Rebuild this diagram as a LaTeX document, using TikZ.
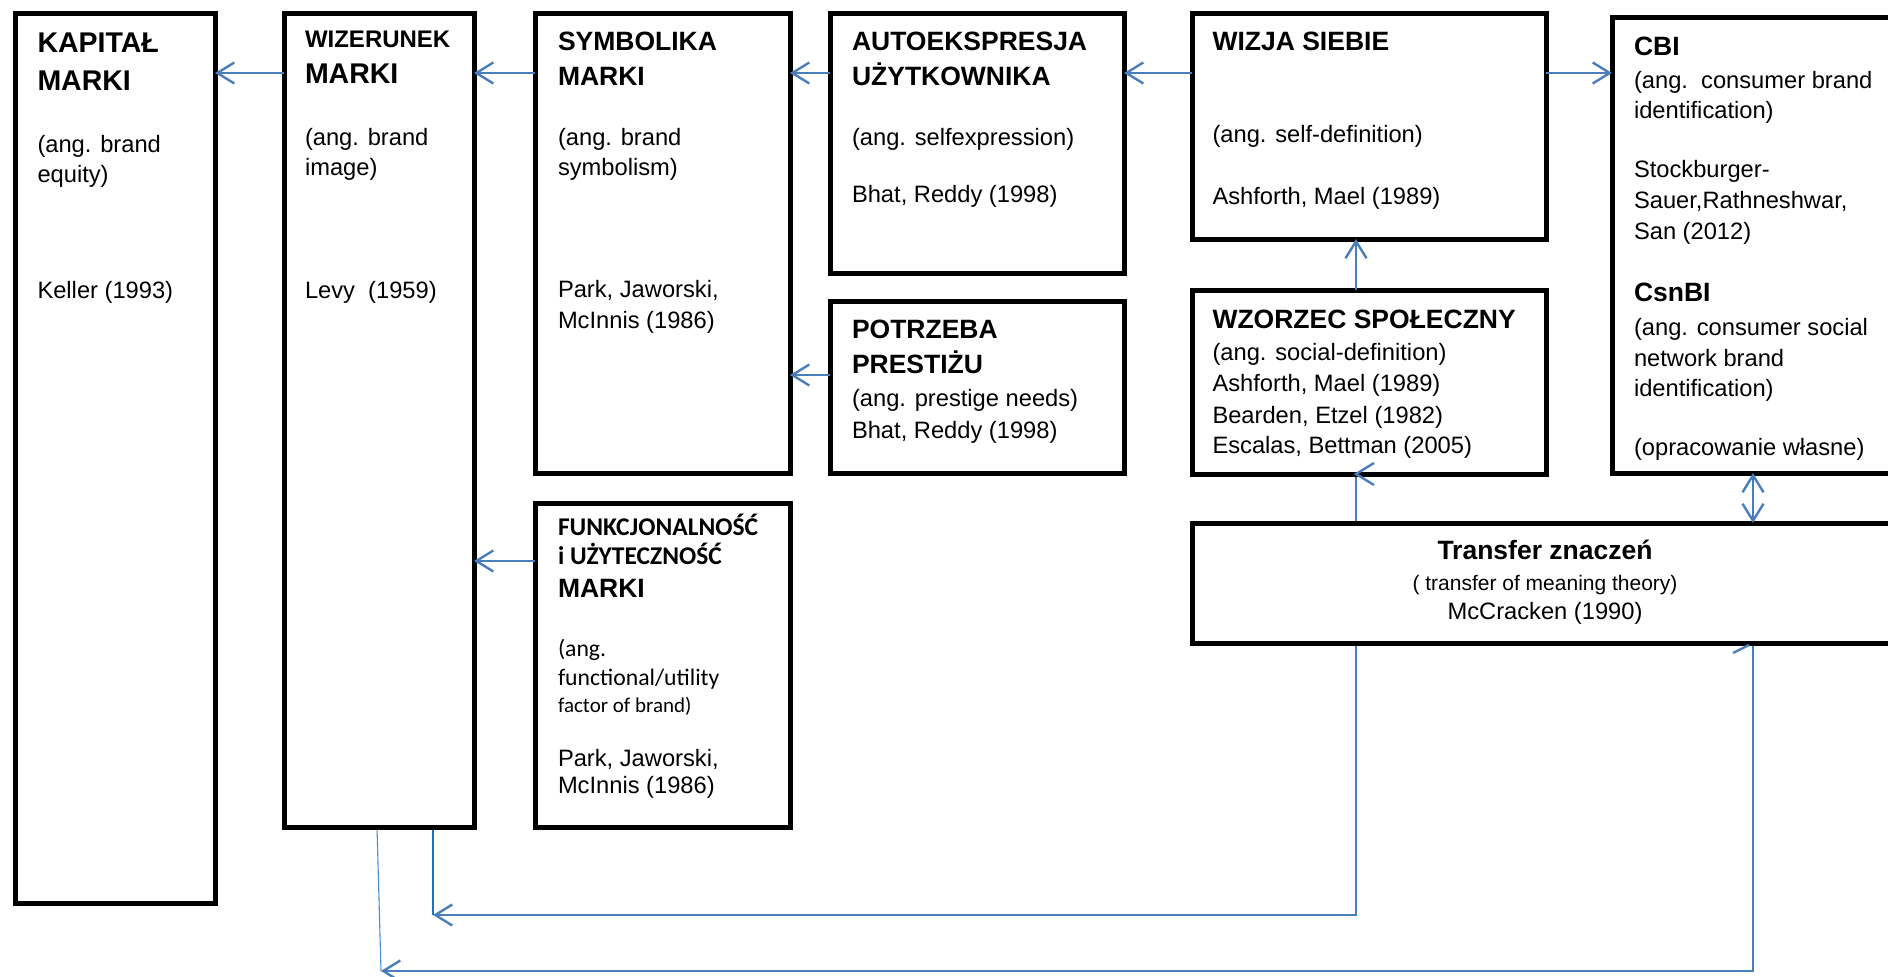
\documentclass[tikz,border=0pt]{standalone}
\usepackage{fontspec}
\setmainfont{Liberation Sans}
\newfontfamily\calibfont{Carlito}
\usetikzlibrary{arrows.meta,calc}
\pgfdeclarelayer{back}
\pgfdeclarelayer{bg}
\pgfsetlayers{back,bg,main}
\definecolor{conn}{HTML}{4A7EBB}
\definecolor{thinA}{HTML}{1A72C4}
\definecolor{thinB}{HTML}{4A90D0}
\newcommand\dgbody{\fontsize{23.7}{28}\selectfont}
\newcommand\dgbig{\bfseries\fontsize{28.5}{32}\selectfont}
\newcommand\dgmid{\bfseries\fontsize{26.5}{30}\selectfont}
\newcommand\dgwiz{\bfseries\fontsize{24}{28}\selectfont}
\newcommand\dgcalb{\calibfont\bfseries\fontsize{25.5}{29}\selectfont}
\newcommand\dgcal{\calibfont\fontsize{23.7}{28}\selectfont}
\newcommand\dgcals{\calibfont\fontsize{21}{25}\selectfont}
\newcommand\dgsmall{\fontsize{21}{25}\selectfont}
\tikzset{
  box/.style={draw=black, line width=5pt, fill=white, rectangle, inner sep=0pt, outer sep=0pt, anchor=north west},
  txt/.style={inner sep=0pt, outer sep=0pt, anchor=base west, font=\dgbody},
  ctr/.style={inner sep=0pt, outer sep=0pt, anchor=base, font=\dgbody},
  barb/.tip={Straight Barb[length=17pt,width=21pt,line width=2.4pt]},
  arr/.style={draw=conn, line width=2.4pt, -barb},
  darr/.style={draw=conn, line width=2.4pt, barb-barb},
  longline/.style={draw=conn, line width=2.6pt},
  thinline/.style={draw=thinA, line width=1.8pt},
  hairline/.style={draw=thinB, line width=1.1pt},
}
\begin{document}
\begin{tikzpicture}[x=1pt,y=-1pt]
\useasboundingbox (0,0) rectangle (1888,977);
\clip (0,0) rectangle (1888,977);
\begin{pgfonlayer}{back}
\fill[white] (0,0) rectangle (1888,977);
\end{pgfonlayer}

% boxes
\node[box, minimum width=200pt, minimum height=890pt] (kap) at (15,13) {};
\node[box, minimum width=190pt, minimum height=814pt] (wiz) at (284,13) {};
\node[box, minimum width=255pt, minimum height=460pt] (sym) at (535,13) {};
\node[box, minimum width=255pt, minimum height=324pt] (fun) at (535,503) {};
\node[box, minimum width=294pt, minimum height=260pt] (auto) at (830,13) {};
\node[box, minimum width=294pt, minimum height=172pt] (pot) at (830,301) {};
\node[box, minimum width=354pt, minimum height=226pt] (wizja) at (1192,13) {};
\node[box, minimum width=354pt, minimum height=184pt] (wzor) at (1192,290) {};
\node[box, minimum width=300pt, minimum height=456pt] (cbi) at (1612,17) {};
\node[box, minimum width=720pt, minimum height=120pt] (trans) at (1192,523) {};

% texts: KAPITAL
\node[txt, font=\dgbig] (kap1) at (37.5,52) {KAPITAŁ};
\node[txt, font=\dgbig] (kap2) at (37.5,90) {MARKI};
\node[txt] (kap3) at (37.5,152) {(ang. brand};
\node[txt] (kap4) at (37.5,182) {equity)};
\node[txt] (kap5) at (37.5,298) {Keller (1993)};
% WIZERUNEK
\node[txt, font=\dgwiz] (wiz1) at (305,47) {WIZERUNEK};
\node[txt, font=\dgbig] (wiz2) at (305,83) {MARKI};
\node[txt] (wiz3) at (305,145) {(ang. brand};
\node[txt] (wiz4) at (305,175) {image)};
\node[txt] (wiz5) at (305,298) {Levy\ \ (1959)};
% SYMBOLIKA
\node[txt, font=\dgmid] (sym1) at (558,50) {SYMBOLIKA};
\node[txt, font=\dgmid] (sym2) at (558,85) {MARKI};
\node[txt] (sym3) at (558,145) {(ang. brand};
\node[txt] (sym4) at (558,175) {symbolism)};
\node[txt] (sym5) at (558,297) {Park, Jaworski,};
\node[txt] (sym6) at (558,328) {McInnis (1986)};
% AUTOEKSPRESJA
\node[txt, font=\dgmid] (aut1) at (852,50) {AUTOEKSPRESJA};
\node[txt, font=\dgmid] (aut2) at (852,85) {UŻYTKOWNIKA};
\node[txt] (aut3) at (852,145) {(ang. selfexpression)};
\node[txt] (aut4) at (852,202) {Bhat, Reddy (1998)};
% POTRZEBA
\node[txt, font=\dgmid] (pot1) at (852,338) {POTRZEBA};
\node[txt, font=\dgmid] (pot2) at (852,373) {PRESTIŻU};
\node[txt] (pot3) at (852,406) {(ang. prestige needs)};
\node[txt] (pot4) at (852,438) {Bhat, Reddy (1998)};
% FUNKCJONALNOSC
\node[txt, font=\dgcalb] (fun1) at (558,535) {FUNKCJONALNOŚĆ};
\node[txt, font=\dgcalb] (fun2) at (558,564) {i UŻYTECZNOŚĆ};
\node[txt, font=\dgmid] (fun3) at (558,597) {MARKI};
\node[txt, font=\dgcal] (fun4) at (558,656) {(ang.};
\node[txt, font=\dgcal] (fun5) at (558,685) {functional/utility};
\node[txt, font=\dgcals] (fun6) at (558,712) {factor of brand)};
\node[txt] (fun7) at (558,766) {Park, Jaworski,};
\node[txt] (fun8) at (558,793) {McInnis (1986)};
% WIZJA
\node[txt, font=\dgmid] (wj1) at (1212.5,50) {WIZJA SIEBIE};
\node[txt] (wj2) at (1212.5,142) {(ang. self-definition)};
\node[txt] (wj3) at (1212.5,204) {Ashforth, Mael (1989)};
% WZORZEC
\node[txt, font=\dgmid] (wz1) at (1212.5,328) {WZORZEC SPOŁECZNY};
\node[txt] (wz2) at (1212.5,360) {(ang. social-definition)};
\node[txt] (wz3) at (1212.5,391) {Ashforth, Mael (1989)};
\node[txt] (wz4) at (1212.5,423) {Bearden, Etzel (1982)};
\node[txt] (wz5) at (1212.5,453) {Escalas, Bettman (2005)};
% CBI
\node[txt, font=\dgmid] (cb1) at (1634,55) {CBI};
\node[txt] (cb2) at (1634,88) {(ang.\ \ consumer brand};
\node[txt] (cb3) at (1634,118) {identification)};
\node[txt] (cb4) at (1634,177) {Stockburger-};
\node[txt] (cb5) at (1634,208) {Sauer,Rathneshwar,};
\node[txt] (cb6) at (1634,239) {San (2012)};
\node[txt, font=\dgmid] (cb7) at (1634,301) {CsnBI};
\node[txt] (cb8) at (1634,335) {(ang. consumer social};
\node[txt] (cb9) at (1634,366) {network brand};
\node[txt] (cb10) at (1634,396) {identification)};
\node[txt] (cb11) at (1634,455) {(opracowanie własne)};
% Transfer
\node[ctr, font=\dgmid] (tr1) at (1545,559) {Transfer znaczeń};
\node[ctr, font=\dgsmall] (tr2) at (1545,590) {( transfer of meaning theory)};
\node[ctr] (tr3) at (1545,619) {McCracken (1990)};

% connector reference coordinates
\coordinate (r1) at (0,73);
\coordinate (r2) at (0,375);
\coordinate (r3) at (0,561);
\coordinate (v1) at (1356,0);
\coordinate (v2) at (1753,0);
\coordinate (h1) at (0,915);
\coordinate (h2) at (0,971);
\coordinate (x1) at (433,0);
\coordinate (x2) at (381,0);
\coordinate (x3) at (377,0);

% arrows between boxes
\draw[arr] (wiz.west |- r1) -- (kap.east |- r1);
\draw[arr] (sym.west |- r1) -- (wiz.east |- r1);
\draw[arr] (auto.west |- r1) -- (sym.east |- r1);
\draw[arr] (wizja.west |- r1) -- (auto.east |- r1);
\draw[arr] (wizja.east |- r1) -- (cbi.west |- r1);
\draw[arr] (pot.west |- r2) -- (sym.east |- r2);
\draw[arr] (fun.west |- r3) -- (wiz.east |- r3);
\draw[arr] (wzor.north -| v1) -- (wizja.south -| v1);
\draw[darr] (cbi.south -| v2) -- (trans.north -| v2);

% long return connectors (behind the boxes)
\begin{pgfonlayer}{bg}
\draw[longline, -barb] (wzor.south -| v1) -- (v1 |- h1) -- (x1 |- h1);
\draw[longline, -barb] (trans.south -| v2) -- (v2 |- h2) -- (x2 |- h2);
\draw[thinline] (wiz.south -| x1) -- (x1 |- h1);
\draw[hairline] (wiz.south -| x3) -- (x2 |- h2);
\end{pgfonlayer}

% stray arrowhead marks
\draw[draw=conn, line width=2.4pt] ($(wzor.south -| v1)+(18,-11)$) -- (wzor.south -| v1) -- ($(wzor.south -| v1)+(18,11)$);
\draw[draw=conn, line width=2.4pt] ($(trans.south -| v2)+(-4,2)$) -- ($(trans.south -| v2)+(-20,10)$);
\end{tikzpicture}
\end{document}
